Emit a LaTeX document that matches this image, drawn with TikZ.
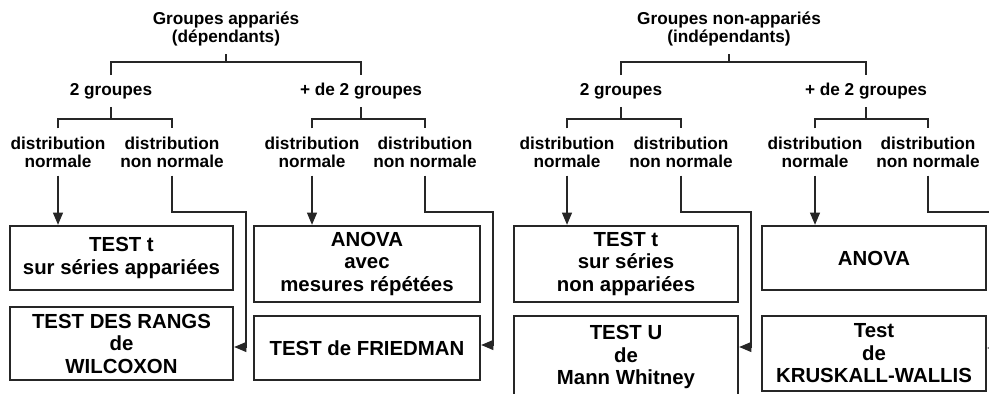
\documentclass[tikz,border=0pt]{standalone}
\usepackage{fontspec}
\setmainfont{Liberation Sans}
\usetikzlibrary{arrows.meta, calc}
\definecolor{cline}{HTML}{262626}
\tikzset{
  every picture/.style={line width=1.2pt},
  lbl/.style={align=center, inner sep=4pt, font=\fontsize{9.8}{10.4}\selectfont\bfseries},
  testbox/.style={draw=cline, align=center, inner sep=2pt, font=\fontsize{11.6}{12.8}\selectfont\bfseries},
  link/.style={draw=cline},
  arrow/.style={-{Triangle[length=7pt, width=5.5pt]}, draw=cline},
}

\begin{document}
\begin{tikzpicture}[x=0.02cm, y=-0.02cm]
  \useasboundingbox (0,0) rectangle (989,394);
  \clip (0,0) rectangle (989,394);
  % paired groups
  \node[lbl] (tA) at (226, 29) {Groupes appariés\\(dépendants)};
  \node[lbl] (g2A) at (111, 91) {2 groupes};
  \node[lbl] (gpA) at (361, 91) {+ de 2 groupes};
  \node[lbl] (nA) at (58, 152) {distribution\\normale};
  \node[lbl] (nnA) at (172, 152) {distribution\\non normale};
  \node[lbl] (npA) at (312, 152) {distribution\\normale};
  \node[lbl] (nnpA) at (425, 152) {distribution\\non normale};
  \node[testbox, minimum width=4.46cm, minimum height=1.28cm] (A1) at (121.5, 258) {TEST t\\sur séries appariées};
  \node[testbox, minimum width=4.46cm, minimum height=1.46cm] (A2) at (121.5, 343.5) {TEST DES RANGS\\de\\WILCOXON};
  \node[testbox, minimum width=4.52cm, minimum height=1.52cm] (A3) at (367, 264) {ANOVA\\avec\\mesures répétées};
  \node[testbox, minimum width=4.52cm, minimum height=1.28cm] (A4) at (367, 348) {TEST de FRIEDMAN};
  % unpaired groups
  \node[lbl] (tB) at (729, 29) {Groupes non-appariés\\(indépendants)};
  \node[lbl] (g2B) at (621, 91) {2 groupes};
  \node[lbl] (gpB) at (866, 91) {+ de 2 groupes};
  \node[lbl] (nB) at (567, 152) {distribution\\normale};
  \node[lbl] (nnB) at (681, 152) {distribution\\non normale};
  \node[lbl] (npB) at (815, 152) {distribution\\normale};
  \node[lbl] (nnpB) at (928, 152) {distribution\\non normale};
  \node[testbox, minimum width=4.48cm, minimum height=1.52cm] (B1) at (626, 264) {TEST t\\sur séries\\non appariées};
  \node[testbox, minimum width=4.48cm, minimum height=1.64cm] (B2) at (626, 357) {TEST U\\de\\Mann Whitney};
  \node[testbox, minimum width=4.48cm, minimum height=1.28cm] (B3) at (874, 258) {ANOVA};
  \node[testbox, minimum width=4.48cm, minimum height=1.50cm] (B4) at (874, 353.5) {Test\\de\\KRUSKALL-WALLIS};
  % forks
  \foreach \p/\l/\r/\y in {tA/g2A/gpA/62, g2A/nA/nnA/119, gpA/npA/nnpA/119,
                            tB/g2B/gpB/62, g2B/nB/nnB/119, gpB/npB/nnpB/119}
    \draw[link] (\p.south) -- (\p.south |- 0,\y) (\l.north) |- (\p.south |- 0,\y) -| (\r.north);
  % arrows to the tests
  \foreach \n/\b in {nA/A1, npA/A3, nB/B1, npB/B3}
    \draw[arrow] (\n.south) -- (\n.south |- \b.north);
  \foreach \n/\b/\y in {nnA/A2/347, nnpA/A4/345, nnB/B2/347, nnpB/B4/348}
    \draw[arrow] (\n.south) |- ($(\b.east |- 0,212)+(12,0)$) |- (\b.east |- 0,\y);
\end{tikzpicture}
\end{document}
